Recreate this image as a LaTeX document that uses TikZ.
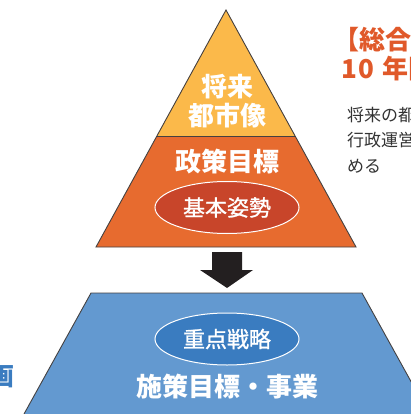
\documentclass[tikz,border=0pt]{standalone}
\usepackage{fontspec}
\setmainfont{Noto Sans CJK JP}
\newfontfamily\jpmed[FakeBold=1.2]{Noto Sans CJK JP}
\usetikzlibrary{shapes.geometric}
\definecolor{pyYellow}{HTML}{FBB94A}
\definecolor{pyOrange}{HTML}{E76B2F}
\definecolor{pyRed}{HTML}{C8452A}
\definecolor{pyBlue}{HTML}{6399D0}
\definecolor{pyDBlue}{HTML}{3A7CC0}
\definecolor{arrowDark}{HTML}{231F20}
\definecolor{titleOrange}{HTML}{E0592A}
\definecolor{textGray}{HTML}{333333}
\tikzset{
  outline/.style={draw=arrowDark!85, line width=0.9pt},
  bigtext/.style={text=white, font=\bfseries\fontsize{26}{29}\selectfont, align=center, inner sep=0pt},
  oval/.style={ellipse, draw=white, line width=1pt, minimum width=144pt, minimum height=52pt, inner sep=0pt,
    text=white, font=\jpmed\fontsize{22}{24}\selectfont},
  title/.style={text=titleOrange, font=\bfseries\fontsize{26}{28}\selectfont, anchor=west, inner sep=0pt},
  body/.style={text=textGray, font=\fontsize{17}{19}\selectfont, anchor=west, inner sep=0pt}
}
\begin{document}
\begin{tikzpicture}[x=1pt,y=-1pt]
\useasboundingbox (0,0) rectangle (411,414);
\clip (0,0) rectangle (411,414);
% pyramid
\fill[pyOrange] (226,10) -- (356,247) -- (96,247) -- cycle;
\fill[pyYellow] (226,10) -- (295.1,136) -- (156.9,136) -- cycle;
\draw[outline] (156.9,136) -- (295.1,136);
\draw[outline] (226,10) -- (356,247) -- (96,247) -- cycle;
\node[bigtext] (vision) at (227,101) {将来\\都市像};
\node[bigtext] (policy) at (227,162) {政策目標};
\node[oval, fill=pyRed] (basic) at (227,207.5) {基本姿勢};
% arrow
\fill[arrowDark] (212,252) -- (242,252) -- (242,270) -- (253,270) -- (227,288) -- (200,270) -- (212,270) -- cycle;
% trapezoid
\fill[pyBlue] (91,293) -- (362,293) -- (429,414) -- (24,414) -- cycle;
\draw[outline] (24,414) -- (91,293) -- (362,293) -- (429,414);
\node[oval, fill=pyDBlue] (focus) at (227,339) {重点戦略};
\node[bigtext] (measures) at (227,387) {施策目標・事業};
% right texts
\node[title] (head1) at (333,40) {【総合計画】};
\node[title] (head2) at (341,69) {1\kern1pt0\hspace{9pt}年間};
\node[body] (line1) at (347,115) {将来の都市像};
\node[body] (line2) at (347,140) {行政運営の};
\node[body] (line3) at (347,166) {める};
% left text
\node[text=pyDBlue, font=\bfseries\fontsize{25}{27}\selectfont, anchor=east, inner sep=0pt] (left) at (15,376) {計画};
\end{tikzpicture}
\end{document}
